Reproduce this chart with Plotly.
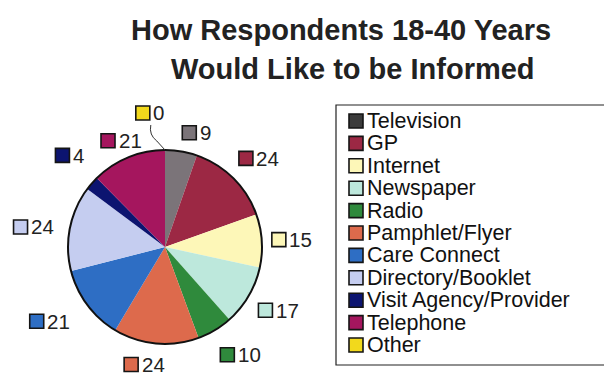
import math
import plotly.graph_objects as go

# Survey answers: preferred ways of being informed (respondents aged 18-40)
categories = ["Television", "GP", "Internet", "Newspaper", "Radio",
              "Pamphlet/Flyer", "Care Connect", "Directory/Booklet",
              "Visit Agency/Provider", "Telephone", "Other"]
counts = [9, 24, 15, 17, 10, 24, 21, 24, 4, 21, 0]

# styling
slice_colors = ["#7b7479", "#9c2844", "#fdf7b8", "#bde8dc", "#2f8a3c",
                "#dd6a4c", "#2e6ec4", "#c5cdf0", "#0c1470", "#a5165e", "#f2d91c"]
legend_colors = ["#3b3b3b"] + slice_colors[1:]
# small pixel shifts that keep neighbouring value labels apart
label_shift = [(10, 13), (3, 3), (-2, 1), (2, -2), (9, -3), (-9, -11),
               (-12, -3), (-5, 5), (2, -7), (5, 13), (-15, -5)]

W, H = 604, 376
CX, CY, R = 165, 247, 97          # pie centre and radius in pixels
LABEL_R = 1.33 * R                 # distance of value labels from centre
NUM_FONT = 20.5
SQ = 15                            # square marker side
FONT = "Liberation Sans, Arial, sans-serif"

fig = go.Figure()

fig.add_trace(go.Pie(
    labels=categories, values=counts, sort=False, direction="clockwise",
    rotation=0, textinfo="none", hoverinfo="label+value",
    marker=dict(colors=slice_colors, line=dict(width=0)),
    showlegend=False,
    domain=dict(x=[(CX - R) / W, (CX + R) / W],
                y=[(H - CY - R) / H, (H - CY + R) / H]),
))

# value labels around the pie: coloured square followed by the count
total = sum(counts)
cum = 0
sq_x, sq_y = [], []
annotations = []
for val, (sx, sy) in zip(counts, label_shift):
    mid = (cum + val / 2) / total * 2 * math.pi
    cum += val
    txt = str(val)
    tw = 0.556 * NUM_FONT * len(txt)
    group_w = SQ + 3 + tw
    gx = CX + LABEL_R * math.sin(mid) + sx
    gy = CY - LABEL_R * math.cos(mid) + sy
    left = gx - group_w / 2
    sq_x.append(left + SQ / 2)
    sq_y.append(gy)
    annotations.append(dict(x=left + SQ + 3, y=gy, xref="x", yref="y", text=txt,
                            showarrow=False, xanchor="left", yanchor="middle",
                            xshift=-2,
                            font=dict(size=NUM_FONT, color="#222222", family=FONT)))

fig.add_trace(go.Scatter(
    x=sq_x, y=sq_y, mode="markers", hoverinfo="skip", showlegend=False,
    marker=dict(symbol="square", size=SQ - 1, color=slice_colors,
                line=dict(color="#151515", width=1.6)),
))

# legend panel
LEG_X0, LEG_Y0, LEG_Y1 = 336, 105, 365
ROW0, ROW_STEP = 121, 22.4
leg_y = [ROW0 + i * ROW_STEP for i in range(len(categories))]
fig.add_trace(go.Scatter(
    x=[356] * len(categories), y=leg_y, mode="markers", hoverinfo="skip",
    showlegend=False,
    marker=dict(symbol="square", size=SQ - 1, color=legend_colors,
                line=dict(color="#151515", width=1.6)),
))
for name, y in zip(categories, leg_y):
    annotations.append(dict(x=367, y=y, xref="x", yref="y", text=name,
                            showarrow=False, xanchor="left", yanchor="middle",
                            xshift=-2,
                            font=dict(size=21.5, color="#111111", family=FONT)))

# title, two centred lines
title_font = dict(size=29, color="#222222", family=FONT)
annotations.append(dict(x=341, y=30, xref="x", yref="y",
                        text="<b>How Respondents 18-40 Years</b>", showarrow=False,
                        xanchor="center", yanchor="middle", font=title_font))
annotations.append(dict(x=353, y=69, xref="x", yref="y",
                        text="<b>Would Like to be Informed</b>", showarrow=False,
                        xanchor="center", yanchor="middle", font=title_font))

zero_x = sq_x[-1] + 8
shapes = [
    dict(type="circle", xref="x", yref="y", x0=CX - R, x1=CX + R,
         y0=CY - R, y1=CY + R, line=dict(color="#111111", width=2)),
    dict(type="path", xref="x", yref="y",
         path=f"M {zero_x} {sq_y[-1] + 12} Q {zero_x - 2} {sq_y[-1] + 22} "
              f"{zero_x + 6} {sq_y[-1] + 28} L {CX} {CY - R}",
         line=dict(color="#333333", width=1)),
    dict(type="rect", xref="x", yref="y", x0=LEG_X0, x1=W + 10,
         y0=LEG_Y0, y1=LEG_Y1, line=dict(color="#222222", width=1.2)),
]

fig.update_layout(
    width=W, height=H, margin=dict(l=0, r=0, t=0, b=0),
    paper_bgcolor="white", plot_bgcolor="rgba(0,0,0,0)",
    xaxis=dict(range=[0, W], visible=False, domain=[0, 1], fixedrange=True),
    yaxis=dict(range=[H, 0], visible=False, domain=[0, 1], fixedrange=True),
    annotations=annotations, shapes=shapes, showlegend=False,
)

fig.write_html("out.html")
